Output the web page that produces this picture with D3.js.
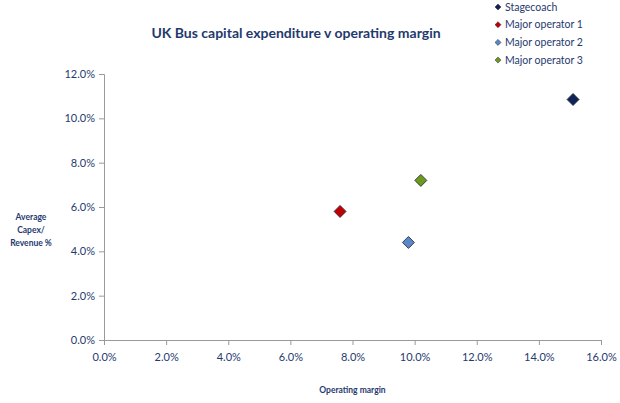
<!DOCTYPE html>
<html>
<head>
<meta charset="utf-8">
<script src="https://cdn.jsdelivr.net/npm/d3@7"></script>
<style>
  body { margin: 0; background: #fff; }
  svg { display: block; font-family: Lato, "Open Sans", sans-serif; }
</style>
</head>
<body>
<div id="general"></div>
<script>
const operators = ["Stagecoach", "Major operator 1", "Major operator 2", "Major operator 3"];
const operatingMargin = [15.1, 7.6, 9.8, 10.2];
const capexRevenue = [10.85, 5.8, 4.4, 7.2];
const colors = ["#0e2458", "#c00000", "#5a87c8", "#6a9a1e"];
const xTicks = [0, 2, 4, 6, 8, 10, 12, 14, 16];
const yTicks = [0, 2, 4, 6, 8, 10, 12];

const w = 620, h = 403;
const m = {l: 104, r: 19, t: 74, b: 63};
const textColor = "#1f3a6e";

const svg = d3.select("#general").append("svg")
  .attr("width", w)
  .attr("height", h)
  .attr("viewBox", [0, 0, w, h]);

const x = d3.scaleLinear().domain([0, 16]).range([m.l, w - m.r]);
const y = d3.scaleLinear().domain([0, 12]).range([h - m.b, m.t]);

svg.append("text")
  .attr("x", 296).attr("y", 38)
  .attr("text-anchor", "middle")
  .attr("font-size", 14)
  .attr("font-weight", "bold")
  .attr("fill", textColor)
  .text("UK Bus capital expenditure v operating margin");

const xAxis = svg.append("g")
  .attr("transform", `translate(0,${y(0)})`)
  .call(d3.axisBottom(x).tickValues(xTicks).tickFormat(d => d.toFixed(1) + "%").tickSize(5).tickPadding(8));

const yAxis = svg.append("g")
  .attr("transform", `translate(${x(0)},0)`)
  .call(d3.axisLeft(y).tickValues(yTicks).tickFormat(d => d.toFixed(1) + "%").tickSize(5).tickPadding(4));

[xAxis, yAxis].forEach(a => {
  a.select(".domain").attr("stroke", "#9a9a9a");
  a.selectAll(".tick line").attr("stroke", "#9a9a9a");
  a.selectAll(".tick text")
    .attr("fill", textColor)
    .attr("font-size", 11)
    .attr("font-family", "Lato, sans-serif");
});

svg.append("text")
  .attr("x", x(8)).attr("y", 393)
  .attr("text-anchor", "middle")
  .attr("font-size", 8.5)
  .attr("font-weight", "bold")
  .attr("fill", textColor)
  .text("Operating margin");

svg.append("text")
  .attr("x", 31).attr("y", 220)
  .attr("text-anchor", "middle")
  .attr("font-size", 8.5)
  .attr("font-weight", "bold")
  .attr("fill", textColor)
  .selectAll("tspan")
  .data(["Average", "Capex/", "Revenue %"])
  .join("tspan")
    .attr("x", 31)
    .attr("dy", (d, i) => i === 0 ? 0 : 13)
    .text(d => d);

const diamond = d3.symbol().type(d3.symbolSquare).size(72);

svg.append("g")
  .selectAll("path")
  .data(operators)
  .join("path")
    .attr("d", diamond)
    .attr("transform", (d, i) => `translate(${x(operatingMargin[i])},${y(capexRevenue[i])}) rotate(45)`)
    .attr("fill", (d, i) => colors[i])
    .attr("stroke", "#2a2a3a")
    .attr("stroke-width", 0.8);

const legend = svg.append("g")
  .selectAll("g")
  .data(operators)
  .join("g")
    .attr("transform", (d, i) => `translate(498,${7 + i * 17.7})`);

legend.append("path")
  .attr("d", d3.symbol().type(d3.symbolSquare).size(18))
  .attr("transform", "rotate(45)")
  .attr("fill", (d, i) => colors[i])
  .attr("stroke", "#2a2a3a")
  .attr("stroke-width", 0.5);

legend.append("text")
  .attr("x", 7).attr("y", 3.5)
  .attr("font-size", 10.5)
  .attr("fill", textColor)
  .text(d => d);
</script>
</body>
</html>
